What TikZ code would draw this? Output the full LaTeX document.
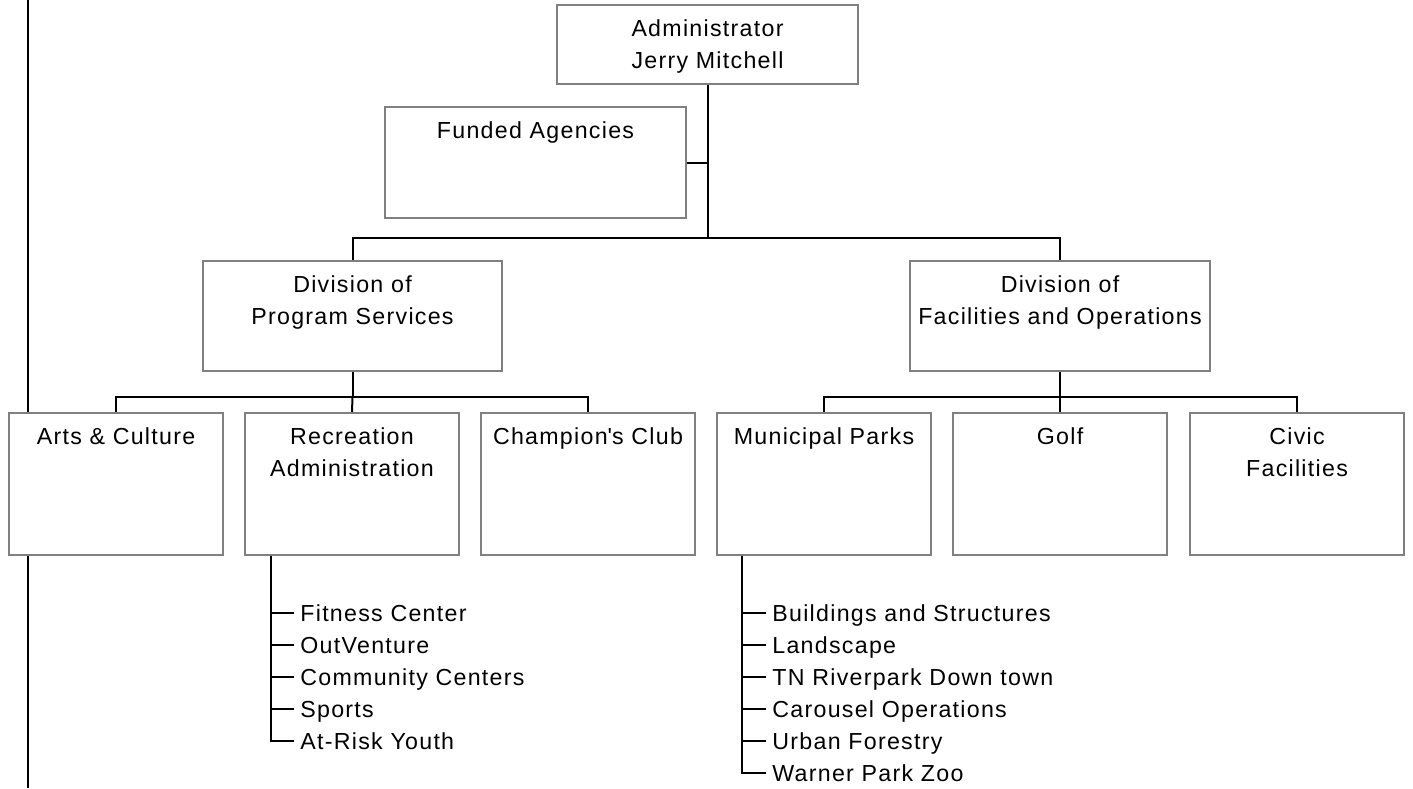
\documentclass[tikz,border=0pt]{standalone}
\usepackage{fontspec}
\setmainfont[LetterSpace=5.5]{Liberation Sans}

\begin{document}
\begin{tikzpicture}[x=0.5pt,y=-0.5pt,
    font=\fontsize{11.6}{16}\selectfont,
    unit/.style={draw=gray, line width=1pt, fill=white,
      minimum width=107pt, minimum height=71pt, inner sep=0pt},
    ttl/.style={anchor=north, align=center, inner sep=0pt, yshift=-7.8pt},
    link/.style={line width=1pt},
    item/.style={anchor=west, inner xsep=3pt, inner ysep=0pt,
      text height=8.3pt, text depth=0pt}]
\useasboundingbox (0,0) rectangle (1413,788);

% margin rule
\draw[link] (28,0) -- (28,788);

% top of the tree
\node[unit, minimum width=150.5pt, minimum height=39.5pt,
  label={[ttl]north:{Administrator\\Jerry Mitchell}}] (admin) at (707.5,44.5) {};
\node[unit, minimum width=150.5pt, minimum height=55.5pt,
  label={[ttl]north:Funded Agencies}] (funded) at (535.5,162.5) {};

% the two divisions
\node[unit, minimum width=149.5pt, minimum height=55pt,
  label={[ttl]north:{Division of\\Program Services}}] (progdiv) at (352.5,316) {};
\node[unit, minimum width=150pt, minimum height=55pt,
  label={[ttl]north:{Division of\\Facilities and Operations}}] (facdiv) at (1060,316) {};

% sections
\node[unit, label={[ttl]north:Arts \& Culture}] (arts) at (116,484) {};
\node[unit, label={[ttl]north:{Recreation\\Administration}}] (rec) at (352,484) {};
\node[unit, label={[ttl]north:Champion\textquotesingle s Club}] (champ) at (588,484) {};
\node[unit, label={[ttl]north:Municipal Parks}] (parks) at (824,484) {};
\node[unit, label={[ttl]north:Golf}] (golf) at (1060,484) {};
\node[unit, label={[ttl]north:{Civic\\Facilities}}] (civic) at (1297,484) {};

% connectors
\coordinate (hub) at (admin.south |- 0,238);
\draw[link] (admin.south) -- (hub);
\draw[link] (funded.east) -- (funded.east -| hub);
\draw[link] (progdiv.north) |- (hub) -| (facdiv.north);

\coordinate (pshub) at (progdiv.south |- 0,397);
\draw[link] (progdiv.south) -- (pshub);
\draw[link] (arts.north) |- (pshub) -| (champ.north);
\draw[link] (pshub) -- (rec.north);

\coordinate (fohub) at (facdiv.south |- 0,397);
\draw[link] (facdiv.south) -- (fohub);
\draw[link] (parks.north) |- (fohub) -| (civic.north);
\draw[link] (fohub) -- (golf.north);

% programs under recreation
\foreach \t [count=\i] in {Fitness Center, OutVenture, Community Centers,
    Sports, At-Risk Youth}
  \node[item] (recitem\i) at (294,581+32*\i) {\t};
\coordinate (rectrunk) at ([xshift=13.5pt]rec.south west);
\draw[link] (rectrunk) |- (recitem5.west);
\foreach \i in {1,...,4}
  \draw[link] (rectrunk |- recitem\i.west) -- (recitem\i.west);

% work groups under municipal parks
\foreach \t [count=\i] in {Buildings and Structures, Landscape,
    TN Riverpark Down town, Carousel Operations, Urban Forestry,
    Warner Park Zoo}
  \node[item] (parkitem\i) at (766,581+32*\i) {\t};
\coordinate (parktrunk) at ([xshift=13pt]parks.south west);
\draw[link] (parktrunk) |- (parkitem6.west);
\foreach \i in {1,...,5}
  \draw[link] (parktrunk |- parkitem\i.west) -- (parkitem\i.west);
\end{tikzpicture}
\end{document}
